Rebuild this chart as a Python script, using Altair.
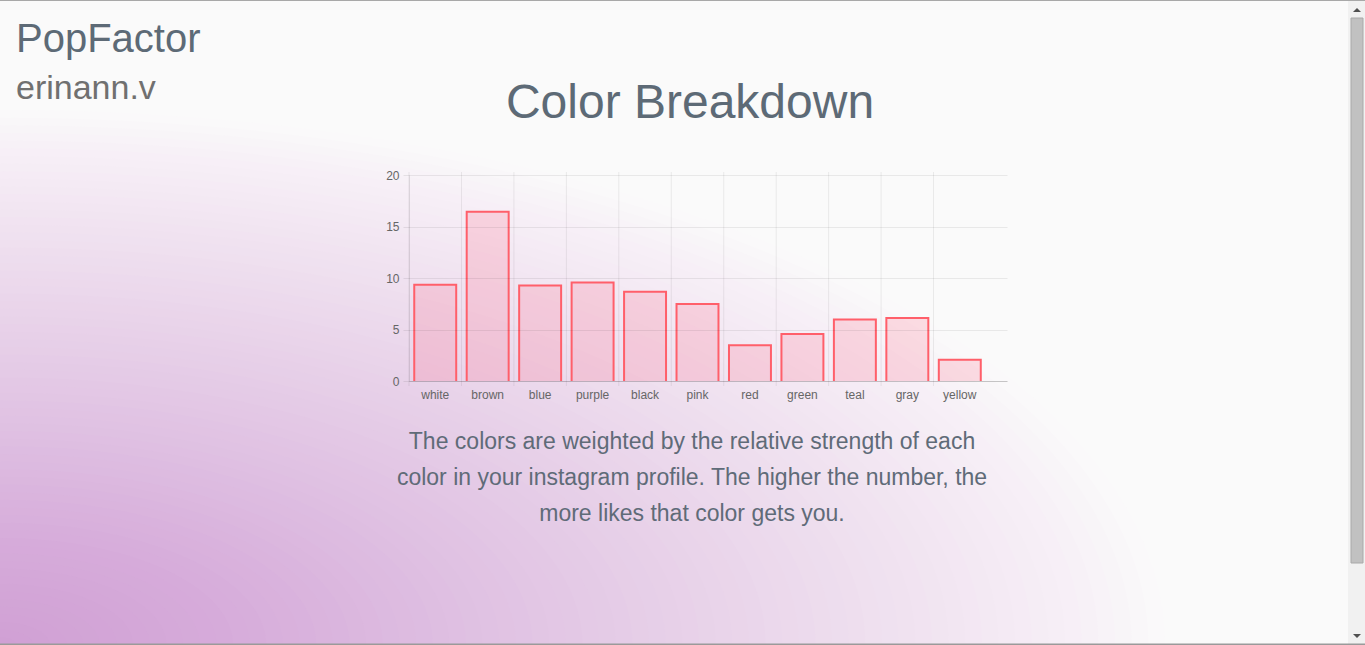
import altair as alt
import pandas as pd

# ---------------- data ----------------
categories = ["white", "brown", "blue", "purple", "black", "pink", "red", "green", "teal", "gray", "yellow"]
values = [9.34, 16.42, 9.28, 9.57, 8.66, 7.47, 3.46, 4.56, 5.98, 6.11, 2.07]
y_ticks = [0, 5, 10, 15, 20]

app_name = "PopFactor"
user_name = "erinann.v"
title_text = "Color Breakdown"
caption_lines = [
    "The colors are weighted by the relative strength of each",
    "color in your instagram profile. The higher the number, the",
    "more likes that color gets you.",
]

df = pd.DataFrame({"color": categories, "value": values})

# ---------------- layout ----------------
FONT = "Liberation Sans"
W, H = 598, 206
PAD_L, PAD_T = 409, 175
TOT_W, TOT_H = 1365, 645
PAD_R = TOT_W - PAD_L - W
PAD_B = TOT_H - PAD_T - H


def rx(px):
    return px - PAD_L


def ry(py):
    return py - PAD_T


# ---------------- page background (elliptical glow from bottom-left) ----------------
stops = [(0.0, "#d0a0d4"), (0.19, "#d6abda"), (0.4, "#dfc0e2"), (0.6, "#e8d2e9"),
         (0.8, "#f1e4f1"), (0.93, "#f7f0f7"), (1.0, "#fafafa")]


def hex2rgb(h):
    h = h.lstrip("#")
    return [int(h[i:i + 2], 16) for i in (0, 2, 4)]


def color_at(t):
    for (t0, c0), (t1, c1) in zip(stops[:-1], stops[1:]):
        if t <= t1:
            f = (t - t0) / (t1 - t0)
            a, b = hex2rgb(c0), hex2rgb(c1)
            return "#%02x%02x%02x" % tuple(round(a[i] + (b[i] - a[i]) * f) for i in range(3))
    return stops[-1][1]


RX_MAX, RY_MAX = 1165.0, 535.0
asp = RY_MAX / RX_MAX
k = 0.5523
ell = (
    f"M 1 0 C 1 {k*asp:.4f} {k:.4f} {asp:.4f} 0 {asp:.4f} "
    f"C {-k:.4f} {asp:.4f} -1 {k*asp:.4f} -1 0 "
    f"C -1 {-k*asp:.4f} {-k:.4f} {-asp:.4f} 0 {-asp:.4f} "
    f"C {k:.4f} {-asp:.4f} 1 {-k*asp:.4f} 1 0 Z"
)
N = 70
bands = pd.DataFrame({
    "sz": [4 * (RX_MAX * i / N) ** 2 for i in range(N, 0, -1)],
    "col": [color_at((i - 0.5) / N) for i in range(N, 0, -1)],
})
bg = alt.Chart(bands).mark_point(shape=ell, filled=True, opacity=1, strokeWidth=0).encode(
    x=alt.value(rx(0)),
    y=alt.value(ry(TOT_H)),
    size=alt.Size("sz:Q", scale=None, legend=None),
    color=alt.Color("col:N", scale=None, legend=None),
)

# ---------------- chart ----------------
xscale = alt.Scale(paddingInner=0, paddingOuter=0.2, align=0)
xaxis = alt.Axis(
    title=None, labelAngle=0, labelFont=FONT, labelFontSize=12, labelColor="#666666",
    ticks=False, tickSize=0, labelPadding=8, grid=False,
    domainColor="rgba(0,0,0,0.15)", zindex=1,
)
yaxis = alt.Axis(
    title=None, values=y_ticks, labelFont=FONT, labelFontSize=12, labelColor="#666666",
    tickSize=6, tickColor="rgba(0,0,0,0.08)", labelPadding=4,
    domainColor="rgba(0,0,0,0.08)", grid=True, gridColor="rgba(0,0,0,0.07)", zindex=1,
)

vgrid = alt.Chart(df).mark_rule(color="rgba(0,0,0,0.07)", strokeWidth=1).encode(
    x=alt.X("color:N", sort=categories, scale=xscale, axis=xaxis, bandPosition=0),
    y=alt.value(-3),
    y2=alt.value(H + 5),
)

bars = alt.Chart(df).mark_bar(
    width=alt.RelativeBandSize(0.8),
    fill="rgba(255,99,132,0.2)",
    stroke="#ff5f6a",
    strokeWidth=2,
    clip=True,
).encode(
    x=alt.X("color:N", sort=categories, scale=xscale, axis=xaxis),
    y=alt.Y("value:Q", scale=alt.Scale(domain=[0, 20], nice=False), axis=yaxis),
    y2=alt.datum(-0.3),
)


def text_layer(txt, x, y, size, color, align="left"):
    return alt.Chart(pd.DataFrame({"t": [txt]})).mark_text(
        font=FONT, fontSize=size, color=color, align=align, baseline="alphabetic",
        lineBreak="\n", lineHeight=36,
    ).encode(x=alt.value(x), y=alt.value(y), text="t:N")


t_app = text_layer(app_name, rx(16), ry(52), 40, "#5d6a76")
t_user = text_layer(user_name, rx(16), ry(99), 34, "#707070")
t_title = text_layer(title_text, rx(690), ry(118), 48, "#5d6a76", "center")
t_caption = text_layer("\n".join(caption_lines), rx(692), ry(449), 23, "#5f6b78", "center")

# ---------------- browser chrome (scrollbar, borders) ----------------
one = pd.DataFrame({"k": [0]})
track = alt.Chart(one).mark_rect(color="#f1f1f1").encode(
    x=alt.value(rx(1348)), x2=alt.value(rx(1365)), y=alt.value(ry(0)), y2=alt.value(ry(645)))
thumb = alt.Chart(one).mark_rect(color="#c1c1c1", stroke="#a9a9a9", strokeWidth=1).encode(
    x=alt.value(rx(1351)), x2=alt.value(rx(1363)), y=alt.value(ry(18)), y2=alt.value(ry(563)))
arrow_up = alt.Chart(one).mark_point(shape="M -1 0.5 L 1 0.5 L 0 -0.5 Z", filled=True, opacity=1,
                                     color="#505050", size=64).encode(
    x=alt.value(rx(1357)), y=alt.value(ry(10)))
arrow_dn = alt.Chart(one).mark_point(shape="M -1 -0.5 L 1 -0.5 L 0 0.5 Z", filled=True, opacity=1,
                                     color="#505050", size=64).encode(
    x=alt.value(rx(1357)), y=alt.value(ry(636)))
top_line = alt.Chart(one).mark_rule(color="#a8a8a8", strokeWidth=1).encode(
    x=alt.value(rx(0)), x2=alt.value(rx(1365)), y=alt.value(ry(0.5)))
bot_line = alt.Chart(one).mark_rule(color="#9a9a9a", strokeWidth=2).encode(
    x=alt.value(rx(0)), x2=alt.value(rx(1365)), y=alt.value(ry(644.5)))

chart = alt.layer(
    bg, vgrid, bars, t_app, t_user, t_title, t_caption,
    track, thumb, arrow_up, arrow_dn, top_line, bot_line,
).properties(
    width=W,
    height=H,
    padding={"left": PAD_L, "top": PAD_T, "right": PAD_R, "bottom": PAD_B},
    autosize=alt.AutoSizeParams(type="none"),
    background="#fafafa",
).configure_view(strokeWidth=0)

chart.save("out.html", embed_options={"renderer": "svg", "actions": False})
